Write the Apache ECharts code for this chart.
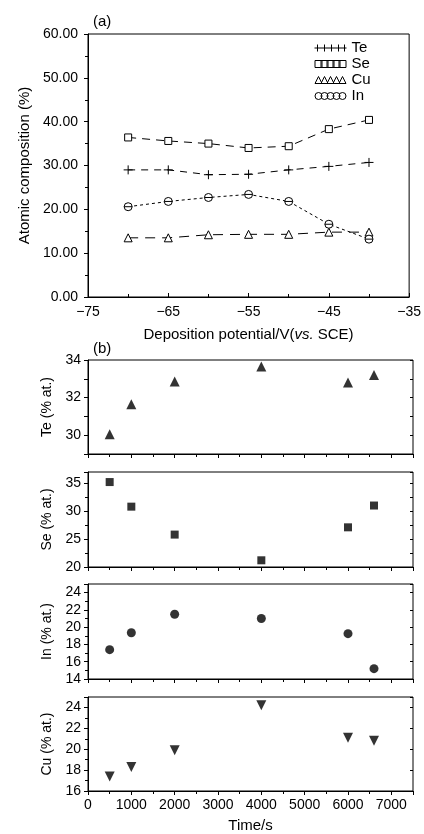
<!DOCTYPE html>
<html>
<head>
<meta charset="utf-8">
<title>CuInSeTe composition</title>
<script src="https://cdn.jsdelivr.net/npm/echarts/dist/echarts.min.js"></script>
<style>
  html, body { margin: 0; padding: 0; background: #fff; }
  #chart { width: 424px; height: 834px; }
</style>
</head>
<body>
<div id="chart"></div>
<script>
// (a) composition vs deposition potential
const potentials = [-70, -65, -60, -55, -50, -45, -40]
const teA = [29.0, 29.0, 27.9, 28.0, 29.0, 29.8, 30.7]
const seA = [36.4, 35.6, 35.0, 34.0, 34.4, 38.3, 40.4]
const cuA = [13.5, 13.5, 14.2, 14.3, 14.3, 14.8, 14.8]
const inA = [20.6, 21.8, 22.7, 23.4, 21.8, 16.6, 13.2]

// (b) composition vs time
const times = [500, 1000, 2000, 4000, 6000, 6600]
const teB = [30.05, 31.65, 32.85, 33.65, 32.8, 33.2]
const seB = [35.2, 30.8, 25.8, 21.2, 27.1, 31.0]
const inB = [17.4, 19.35, 21.5, 21.0, 19.25, 15.2]
const cuB = [17.4, 18.3, 19.9, 24.2, 21.1, 20.8]

const font = 'Liberation Sans, Arial, Helvetica, sans-serif'
const black = '#000'

const pair = (xs, ys) => xs.map((x, i) => [x, ys[i]])

// symbols
const plusPath = 'path://M0 5H10M5 0V10'
const thetaPath = 'path://M0 5A5 5 0 1 0 10 5A5 5 0 1 0 0 5ZM0 5H10'
const openStyle = { color: '#fff', borderColor: black, borderWidth: 1 }

// legend icons (a row of repeated symbols)
const teIcon = 'path://M0 3.5H32M3 0V7M10 0V7M17 0V7M24 0V7M30 0V7'
const seIcon = 'path://M0 0H7V7H0ZM6 0H13V7H6ZM12 0H19V7H12ZM18 0H25V7H18ZM24 0H31V7H24Z'
const cuIcon = 'path://M0 7L3.5 0L7 7ZM6 7L9.5 0L13 7ZM12 7L15.5 0L19 7ZM18 7L21.5 0L25 7ZM24 7L27.5 0L31 7Z'
const inIcon = 'path://M0 3.5A3.5 3.5 0 1 0 7 3.5A3.5 3.5 0 1 0 0 3.5ZM6 3.5A3.5 3.5 0 1 0 13 3.5A3.5 3.5 0 1 0 6 3.5ZM12 3.5A3.5 3.5 0 1 0 19 3.5A3.5 3.5 0 1 0 12 3.5ZM18 3.5A3.5 3.5 0 1 0 25 3.5A3.5 3.5 0 1 0 18 3.5ZM24 3.5A3.5 3.5 0 1 0 31 3.5A3.5 3.5 0 1 0 24 3.5Z'

const gridBase = { left: 88, width: 325, show: true, borderColor: black, borderWidth: 1, backgroundColor: 'transparent' }
const grids = [
  { ...gridBase, top: 34, height: 263 },
  { ...gridBase, top: 360, height: 94 },
  { ...gridBase, top: 472, height: 95 },
  { ...gridBase, top: 584, height: 95 },
  { ...gridBase, top: 697, height: 96 }
]

const labelStyle = { color: black, fontSize: 14, fontFamily: font }
const nameStyle = { color: black, fontSize: 15, fontFamily: font }

// x axes
const xAxes = [
  {
    gridIndex: 0, type: 'value', min: -75, max: -35, interval: 10,
    name: 'Deposition potential/V({i|vs.} SCE)', nameLocation: 'middle', nameGap: 30,
    nameTextStyle: { ...nameStyle, rich: { i: { fontStyle: 'italic', fontSize: 15, fontFamily: font, color: black } } },
    axisLine: { lineStyle: { color: black, width: 1 } },
    axisTick: { inside: true, length: 4, lineStyle: { color: black } },
    minorTick: { show: true, splitNumber: 2, length: 3, lineStyle: { color: black } },
    axisLabel: { ...labelStyle, margin: 8, formatter: v => String(v).replace('-', '\u2212') },
    splitLine: { show: false }
  }
]
for (let g = 1; g <= 4; g++) {
  const last = g === 4
  xAxes.push({
    gridIndex: g, type: 'value', min: 0, max: 7500, interval: 1000,
    name: last ? 'Time/s' : '', nameLocation: 'middle', nameGap: 27, nameTextStyle: nameStyle,
    axisLine: { lineStyle: { color: black, width: 1 } },
    axisTick: { inside: false, length: 4, lineStyle: { color: black } },
    minorTick: { show: true, splitNumber: 2, length: 3, lineStyle: { color: black } },
    axisLabel: { show: last, ...labelStyle, margin: 7, showMaxLabel: false, formatter: v => String(v) },
    splitLine: { show: false }
  })
}

// y axes
const yPanel = (g, name, min, max, interval, showMax, formatter) => ({
  gridIndex: g, type: 'value', min, max, interval,
  name, nameLocation: 'middle', nameGap: 28, nameTextStyle: { ...nameStyle, fontSize: 14 },
  axisLine: { lineStyle: { color: black, width: 1 } },
  axisTick: { inside: false, length: 4, lineStyle: { color: black } },
  minorTick: { show: interval > 1, splitNumber: 2, length: 3, lineStyle: { color: black } },
  axisLabel: { ...labelStyle, margin: 7, showMaxLabel: showMax, formatter: formatter || (v => String(v)) },
  splitLine: { show: false }
})
const yRight = (g, min, max, interval) => ({
  gridIndex: g, type: 'value', position: 'right', min, max, interval,
  axisLine: { show: false },
  axisTick: { inside: true, length: 3, lineStyle: { color: black } },
  axisLabel: { show: false },
  splitLine: { show: false }
})

const yAxes = [
  {
    gridIndex: 0, type: 'value', min: 0, max: 60, interval: 10,
    name: 'Atomic composition (%)', nameLocation: 'middle', nameGap: 56, nameTextStyle: nameStyle,
    axisLine: { lineStyle: { color: black, width: 1 } },
    axisTick: { inside: false, length: 4, lineStyle: { color: black } },
    minorTick: { show: true, splitNumber: 2, length: 3, lineStyle: { color: black } },
    axisLabel: { ...labelStyle, margin: 10, formatter: v => v.toFixed(2) },
    splitLine: { show: false }
  },
  yPanel(1, 'Te (% at.)', 29, 34, 1, true, v => (v % 2 === 0 ? String(v) : '')),
  yPanel(2, 'Se (% at.)', 20, 37, 5, false),
  yPanel(3, 'In (% at.)', 14, 25, 2, false),
  yPanel(4, 'Cu (% at.)', 16, 25, 2, false),
  yRight(1, 29, 34, 1),
  yRight(2, 20, 37, 2.5),
  yRight(3, 14, 25, 2),
  yRight(4, 16, 25, 2)
]

const lineSeries = (name, data, symbol, size, dash) => ({
  name, type: 'line', xAxisIndex: 0, yAxisIndex: 0,
  data: pair(potentials, data),
  symbol, symbolSize: size,
  itemStyle: openStyle,
  lineStyle: { color: black, width: 1, type: dash },
  emphasis: { disabled: true },
  z: 3
})
const scatterSeries = (g, data, symbol, size, rotate) => ({
  type: 'scatter', xAxisIndex: g, yAxisIndex: g,
  data: pair(times, data),
  symbol, symbolSize: size, symbolRotate: rotate || 0,
  itemStyle: { color: black },
  emphasis: { disabled: true }
})

const option = {
  animation: false,
  backgroundColor: '#fff',
  textStyle: { fontFamily: font },
  title: [
    { text: '(a)', left: 88, top: 9, textStyle: { fontSize: 15, fontWeight: 'normal', color: black, fontFamily: font } },
    { text: '(b)', left: 88, top: 336, textStyle: { fontSize: 15, fontWeight: 'normal', color: black, fontFamily: font } }
  ],
  legend: {
    orient: 'vertical', left: 309, top: 38,
    itemWidth: 32, itemHeight: 7, itemGap: 0,
    padding: [2, 5],
    textStyle: { fontSize: 15, color: black, fontFamily: font, lineHeight: 16 },
    data: [
      { name: 'Te', icon: teIcon, itemStyle: openStyle },
      { name: 'Se', icon: seIcon, itemStyle: openStyle },
      { name: 'Cu', icon: cuIcon, itemStyle: openStyle },
      { name: 'In', icon: inIcon, itemStyle: openStyle }
    ]
  },
  grid: grids,
  xAxis: xAxes,
  yAxis: yAxes,
  series: [
    lineSeries('Te', teA, plusPath, 9, [7, 6]),
    lineSeries('Se', seA, 'rect', 7, [8, 6]),
    lineSeries('Cu', cuA, 'triangle', 8, [10, 7]),
    lineSeries('In', inA, thetaPath, 8, [3, 3]),
    scatterSeries(1, teB, 'triangle', 10),
    scatterSeries(2, seB, 'rect', 8),
    scatterSeries(3, inB, 'circle', 9),
    scatterSeries(4, cuB, 'triangle', 10, 180)
  ]
}

const chart = echarts.init(document.getElementById('chart'), null, { renderer: 'canvas' })
chart.setOption(option)
</script>
</body>
</html>
